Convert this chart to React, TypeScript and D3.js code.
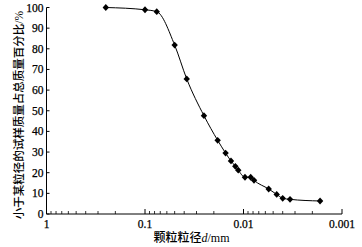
import React from "react";
import * as d3 from "d3";

const diameters = [0.25, 0.1, 0.076, 0.05, 0.0377, 0.0252, 0.0183, 0.0152, 0.0134, 0.0121, 0.0113, 0.00966, 0.00845, 0.00782, 0.00555, 0.0046, 0.004, 0.00337, 0.00167];
const percents = [100, 98.9, 98, 81.8, 65.4, 47.6, 35.7, 29.5, 25.7, 23.1, 21.2, 17.8, 17.8, 16.3, 12.1, 9.5, 7.6, 7.1, 6.3];
const xMajor = [1, 0.1, 0.01, 0.001];
const xMajorLabels = ["1", "0.1", "0.01", "0.001"];
const yTicks = [0, 10, 20, 30, 40, 50, 60, 70, 80, 90, 100];

const W = 362;
const H = 247;

export default function App() {
  const x = d3.scaleLog().domain([1, 0.001]).range([46.5, 342]);
  const y = d3.scaleLinear().domain([0, 100]).range([214, 7.5]);
  const x0 = x(1);
  const y0 = y(0);

  const minor: number[] = [];
  for (let e = 0; e > -3; e--) {
    for (let k = 2; k <= 9; k++) minor.push(k * Math.pow(10, e - 1));
  }

  const pts = diameters.map((d, i) => [x(d), y(percents[i])] as [number, number]);
  const line = d3.line().curve(d3.curveMonotoneX)(pts) || "";

  const serif = "'Liberation Serif', 'DejaVu Serif', serif";
  const cjk = "'Noto Sans CJK SC', sans-serif";

  return (
    <svg width={W} height={H} style={{ position: "absolute", left: 0, top: 0, background: "#fff" }}>
      <rect x={0} y={0} width={W} height={H} fill="#fff" />
      {/* axes */}
      <line x1={x0} y1={y(100)} x2={x0} y2={y0} stroke="#000" strokeWidth={1} />
      <line x1={x0} y1={y0} x2={x(0.001)} y2={y0} stroke="#000" strokeWidth={1} />
      {yTicks.map((t) => (
        <g key={"y" + t}>
          <line x1={x0} x2={x0 + 3} y1={y(t)} y2={y(t)} stroke="#000" />
          <text x={x0 - 3} y={y(t)} dy="0.35em" textAnchor="end" fontFamily={serif} fontSize={11.5} fill="#000" stroke="#000" strokeWidth={0.25}>
            {t}
          </text>
        </g>
      ))}
      {minor.map((m, i) => (
        <line key={"m" + i} x1={x(m)} x2={x(m)} y1={y0} y2={y0 - 3} stroke="#000" strokeWidth={0.8} />
      ))}
      {xMajor.map((t, i) => (
        <g key={"x" + t}>
          <line x1={x(t)} x2={x(t)} y1={y0} y2={y0 - 5} stroke="#000" />
          <text x={x(t)} y={y0 + 14} textAnchor="middle" fontFamily={serif} fontSize={11.5} fill="#000" stroke="#000" strokeWidth={0.25}>
            {xMajorLabels[i]}
          </text>
        </g>
      ))}
      {/* data */}
      <path d={line} fill="none" stroke="#000" strokeWidth={1} />
      {pts.map((p, i) => (
        <path
          key={"p" + i}
          d={`M${p[0]},${p[1] - 3.4}L${p[0] + 3.2},${p[1]}L${p[0]},${p[1] + 3.4}L${p[0] - 3.2},${p[1]}Z`}
          fill="#000"
        />
      ))}
      {/* titles */}
      <text x={191.5} y={242} textAnchor="middle" fontSize={12} fill="#000">
        <tspan fontFamily={cjk} fontWeight={500}>颗粒粒径</tspan>
        <tspan fontFamily={serif} fontStyle="italic">d</tspan>
        <tspan fontFamily={serif}>/mm</tspan>
      </text>
      <text
        transform={`translate(23,115) rotate(-90)`}
        textAnchor="middle"
        fontSize={11.5}
        fill="#000"
      >
        <tspan fontFamily={cjk} fontWeight={500}>小于某粒径的试样质量占总质量百分比</tspan>
        <tspan fontFamily={serif}>/%</tspan>
      </text>
    </svg>
  );
}
